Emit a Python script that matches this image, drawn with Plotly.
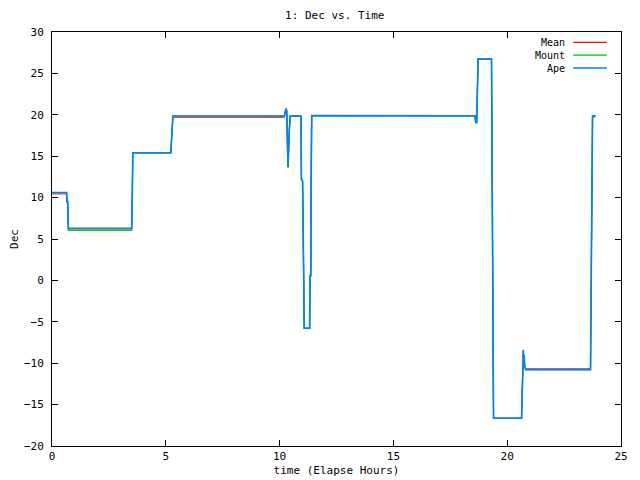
import plotly.graph_objects as go

# Elapsed time (hours), shared sample times
time_h = [0.00, 0.64, 0.66, 0.69, 0.72, 3.50, 3.53, 3.55, 5.22, 5.24,
          5.26, 5.28, 5.31, 10.21, 10.24, 10.28, 10.31, 10.33, 10.35, 10.37,
          10.43, 10.47, 10.94, 10.96, 11.01, 11.03, 11.06, 11.08, 11.32, 11.34,
          11.37, 11.39, 11.41, 18.58, 18.60, 18.62, 18.66, 18.68, 18.70, 18.72,
          19.31, 19.33, 19.36, 19.38, 19.40, 20.63, 20.65, 20.68, 20.71, 20.72,
          20.74, 20.77, 20.81, 23.66, 23.68, 23.71, 23.73, 23.75, 23.88]

ape = [10.61, 10.61, 9.52, 9.52, 6.30, 6.30, 10.73, 15.41, 15.41, 16.50,
       16.50, 18.67, 19.85, 19.85, 20.30, 20.73, 20.50, 15.57, 15.57, 13.68,
       18.31, 19.85, 19.85, 12.15, 12.00, 0.18, 0.00, -5.78, -5.78, 0.58,
       0.58, 13.27, 19.90, 19.88, 19.50, 19.07, 19.07, 21.00, 24.84, 26.73,
       26.73, 15.90, -5.78, -6.00, -16.65, -16.65, -14.65, -10.54, -8.40, -10.30,
       -9.00, -10.40, -10.78, -10.78, -3.24, -3.24, 12.15, 19.88, 19.88]

mean = [10.45, 10.45, 9.40, 9.40, 6.06, 6.06, 10.73, 15.41, 15.41, 16.50,
        16.50, 18.67, 19.70, 19.70, 20.30, 20.73, 20.50, 15.57, 15.57, 13.68,
        18.31, 19.85, 19.85, 12.15, 12.00, 0.18, 0.00, -5.78, -5.78, 0.58,
        0.58, 13.27, 19.90, 19.88, 19.50, 19.07, 19.07, 21.00, 24.84, 26.73,
        26.73, 15.90, -5.78, -6.00, -16.65, -16.65, -14.65, -10.54, -8.40, -10.30,
        -9.00, -10.40, -10.68, -10.68, -3.24, -3.24, 12.15, 19.74, 19.74]

mount = [10.61, 10.61, 9.52, 9.52, 6.08, 6.08, 10.73, 15.41, 15.41, 16.50,
         16.50, 18.67, 19.85, 19.85, 20.30, 20.73, 20.50, 15.57, 15.57, 13.68,
         18.31, 19.85, 19.85, 12.15, 12.00, 0.18, 0.00, -5.78, -5.78, 0.58,
         0.58, 13.27, 19.90, 19.88, 19.50, 19.07, 19.07, 21.00, 24.84, 26.73,
         26.73, 15.90, -5.78, -6.00, -16.65, -16.65, -14.65, -10.54, -8.40, -10.30,
         -9.00, -10.40, -10.78, -10.78, -3.24, -3.24, 12.15, 19.88, 19.88]

series = [("Mean", mean, "#ff0000", 1.0),
          ("Mount", mount, "#00c000", 1.3),
          ("Ape", ape, "#0080ff", 1.6)]

FONT = "DejaVu Sans Mono"

fig = go.Figure()
for name, vals, color, width in series:
    fig.add_trace(go.Scatter(x=time_h, y=vals, mode="lines", name=name,
                             line=dict(color=color, width=width), showlegend=False))

# gnuplot-style key: labels right-aligned, sample lines to their right
key_rows = [0.975, 0.944, 0.913]
fig.add_annotation(x=0.903, y=0.944, xref="paper", yref="paper",
                   text="<br>".join(s[0] for s in series), align="right",
                   xanchor="right", yanchor="middle", showarrow=False, borderpad=0,
                   font=dict(family=FONT, size=10, color="black"))
for (name, vals, color, width), ky in zip(series, key_rows):
    fig.add_shape(type="line", xref="paper", yref="paper", x0=0.916, x1=0.975,
                  y0=ky, y1=ky, line=dict(color=color, width=1.3))

axis_common = dict(showline=True, linecolor="black", linewidth=1, mirror="ticks",
                   ticks="inside", ticklen=6, tickcolor="black", tickwidth=1,
                   showgrid=False, zeroline=False, automargin=False,
                   tickfont=dict(family=FONT, size=11, color="black"))

fig.update_layout(
    width=632, height=472,
    margin=dict(l=44, r=19, t=24, b=34, pad=0, autoexpand=False),
    paper_bgcolor="white", plot_bgcolor="white",
    font=dict(family=FONT, size=11, color="black"),
    title=dict(text="1: Dec vs. Time", xref="paper", x=0.497, xanchor="center",
               y=0.984, yanchor="middle",
               automargin=False, font=dict(family=FONT, size=11, color="black")),
    xaxis=dict(range=[0, 25], dtick=5, tick0=0, ticklabelstandoff=0,
               title=dict(text="time (Elapse Hours)", standoff=4,
                          font=dict(family=FONT, size=11)), **axis_common),
    yaxis=dict(range=[-20, 30], dtick=5, tick0=0, ticklabelstandoff=5,
               title=dict(text="Dec", standoff=4,
                          font=dict(family=FONT, size=11)), **axis_common),
    showlegend=False,
)

fig.write_html("out.html")
